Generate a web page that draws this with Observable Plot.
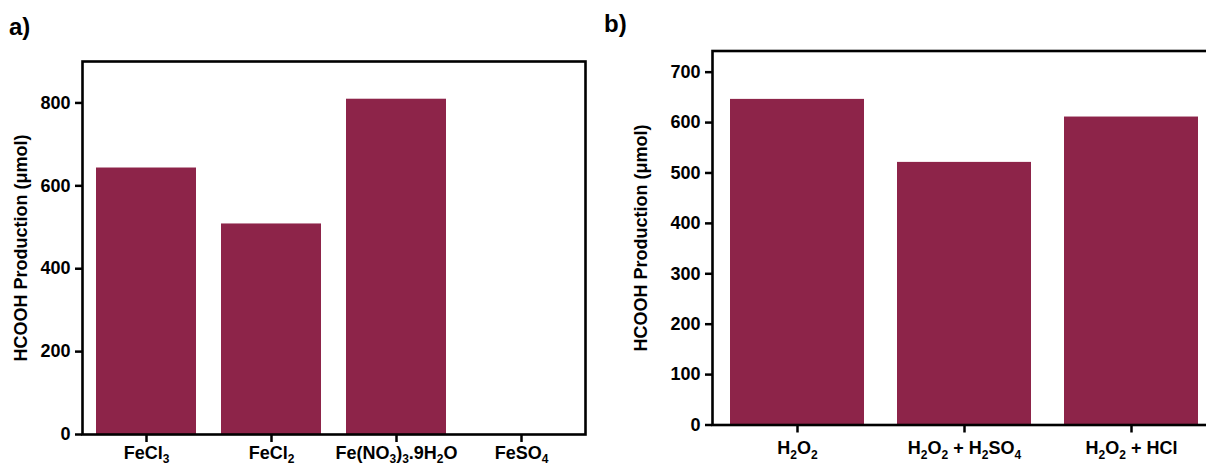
<!DOCTYPE html>
<html><head><meta charset="utf-8">
<script src="https://cdn.jsdelivr.net/npm/d3@7"></script>
<script src="https://cdn.jsdelivr.net/npm/@observablehq/plot@0.6"></script>
<style>
html,body{margin:0;padding:0;background:#fff;}
#wrap{position:relative;width:1206px;height:466px;overflow:hidden;font-family:"Liberation Sans",Arial,sans-serif;}
.panel{position:absolute;top:0;}
.tag{position:absolute;font-weight:bold;font-size:24px;line-height:1;color:#000;}
</style></head><body>
<div id="wrap">
<div id="pa" class="panel" style="left:0;width:600px"></div>
<div id="pb" class="panel" style="left:600px;width:620px"></div>
<div class="tag" style="left:9px;top:15px">a)</div>
<div class="tag" style="left:604px;top:12px">b)</div>
</div>
<script>
// Panel a data
const catsA = ["FeCl_3", "FeCl_2", "Fe(NO_3)_3.9H_2O", "FeSO_4"];
const valuesA = [643, 508, 809, 0];
const ticksA = [0, 200, 400, 600, 800];
// Panel b data
const catsB = ["H_2O_2", "H_2O_2 + H_2SO_4", "H_2O_2 + HCl"];
const valuesB = [646, 521, 611];
const ticksB = [0, 100, 200, 300, 400, 500, 600, 700];
const yLabel = "HCOOH Production (μmol)";
const barColor = "#8d2449";

const tableA = catsA.map((c, i) => ({cat: c, value: valuesA[i]}));
const tableB = catsB.map((c, i) => ({cat: c, value: valuesB[i]}));

const style = {fontFamily: "'Liberation Sans', Arial, sans-serif", fontSize: "18px", fontWeight: "bold", color: "black", background: "white", overflow: "visible", maxWidth: "none"};

function subscriptify(svg, shift) {
  svg.querySelectorAll('g[aria-label="x-axis tick label"] text').forEach(t => {
    const s = t.textContent;
    if (!s.includes("_")) return;
    while (t.firstChild) t.removeChild(t.firstChild);
    const parts = s.split(/(_\d)/);
    let shifted = false;
    parts.forEach(p => {
      if (!p) return;
      const ts = document.createElementNS("http://www.w3.org/2000/svg", "tspan");
      if (p.startsWith("_")) {
        ts.textContent = p.slice(1);
        ts.setAttribute("font-size", "12px");
        ts.setAttribute("dy", shifted ? "0" : String(shift));
        shifted = true;
      } else {
        ts.textContent = p;
        if (shifted) { ts.setAttribute("dy", String(-shift)); shifted = false; }
      }
      t.appendChild(ts);
    });
  });
}

const plotA = Plot.plot({
  width: 600, height: 466,
  marginLeft: 82, marginRight: 15, marginTop: 61, marginBottom: 32,
  style,
  x: {domain: catsA, paddingInner: 0.2, paddingOuter: 0.1, label: null},
  y: {domain: [0, 900], label: null},
  marks: [
    Plot.barY(tableA, {x: "cat", y: "value", fill: barColor}),
    Plot.frame({stroke: "black", strokeWidth: 2.6}),
    Plot.axisX({tickSize: 8, tickPadding: 4, strokeWidth: 2.5, label: null, fill: "black"}),
    Plot.axisY(ticksA, {tickSize: 7, tickPadding: 5, strokeWidth: 2.5, label: yLabel, labelAnchor: "center", labelOffset: 68, labelArrow: "none", fill: "black"})
  ]
});
subscriptify(plotA, 4);
document.getElementById("pa").appendChild(plotA);

const plotB = Plot.plot({
  width: 620, height: 466,
  marginLeft: 112, marginRight: 5, marginTop: 50.5, marginBottom: 41.5,
  style,
  x: {domain: catsB, paddingInner: 0.2, paddingOuter: 0.1, label: null},
  y: {domain: [0, 742], label: null},
  marks: [
    Plot.barY(tableB, {x: "cat", y: "value", fill: barColor}),
    Plot.frame({stroke: "black", strokeWidth: 2.6}),
    Plot.axisX({tickSize: 8, tickPadding: 8, strokeWidth: 2.5, label: null, fill: "black"}),
    Plot.axisY(ticksB, {tickSize: 7, tickPadding: 5, strokeWidth: 2.5, label: yLabel, labelAnchor: "center", labelOffset: 78, labelArrow: "none", fill: "black"})
  ]
});
subscriptify(plotB, 5);
document.getElementById("pb").appendChild(plotB);
</script>
</body></html>
